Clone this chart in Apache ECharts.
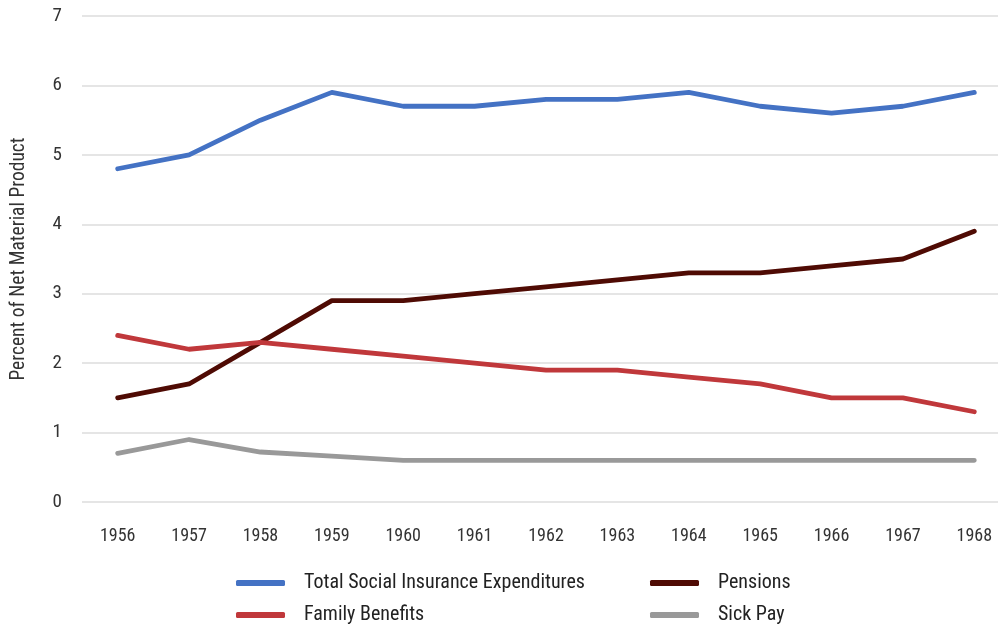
<!DOCTYPE html>
<html><head><meta charset="utf-8">
<script src="https://cdn.jsdelivr.net/npm/echarts@6/dist/echarts.min.js"></script>
<style>html,body{margin:0;padding:0;background:#fff}#c{width:998px;height:625px}</style>
</head><body><div id="c"></div>
<script>
const years = ['1956','1957','1958','1959','1960','1961','1962','1963','1964','1965','1966','1967','1968'];
const totalSI = [4.8,5.0,5.5,5.9,5.7,5.7,5.8,5.8,5.9,5.7,5.6,5.7,5.9];
const pensions = [1.5,1.7,2.3,2.9,2.9,3.0,3.1,3.2,3.3,3.3,3.4,3.5,3.9];
const family = [2.4,2.2,2.3,2.2,2.1,2.0,1.9,1.9,1.8,1.7,1.5,1.5,1.3];
const sickPay = [0.7,0.9,0.72,0.66,0.6,0.6,0.6,0.6,0.6,0.6,0.6,0.6,0.6];
const names = ['Total Social Insurance Expenditures','Pensions','Family Benefits','Sick Pay'];
const colors = ['#4472C4','#4F0B04','#C0383B','#999999'];
const FONT = '"Roboto Condensed", "Liberation Sans Narrow", "Roboto", sans-serif';

const chart = echarts.init(document.getElementById('c'));
const mk = (i, data) => ({
  name: names[i], type: 'line', data: data, symbol: 'none',
  lineStyle: {width: 4.8, color: colors[i], cap: 'round', join: 'round'},
  itemStyle: {color: colors[i]}
});
const lg = (name, left, top) => ({
  left: left, top: top, data: [name], icon: 'roundRect', itemWidth: 49, itemHeight: 6,
  textStyle: {fontFamily: FONT, fontSize: 20, color: '#222', padding: [0, 0, 0, 14]}
});
chart.setOption({
  animation: false,
  textStyle: {fontFamily: FONT},
  grid: {left: 82, top: 16, width: 928, height: 486, containLabel: false, outerBoundsMode: 'none'},
  legend: [
    lg(names[0], 231, 568), lg(names[2], 231, 600),
    lg(names[1], 645, 568), lg(names[3], 645, 600)
  ],
  xAxis: {
    type: 'category', data: years, boundaryGap: true,
    axisLine: {show: false}, axisTick: {show: false},
    axisLabel: {fontFamily: FONT, fontSize: 18, color: '#333', margin: 25}
  },
  yAxis: {
    type: 'value', min: 0, max: 7, interval: 1,
    name: 'Percent of Net Material Product', nameLocation: 'middle', nameGap: 53,
    nameTextStyle: {fontFamily: FONT, fontSize: 19.5, color: '#333'},
    axisLine: {show: false}, axisTick: {show: false},
    axisLabel: {fontFamily: FONT, fontSize: 19, color: '#333', margin: 20},
    splitLine: {lineStyle: {color: '#dddddd', width: 1.5}}
  },
  series: [mk(0, totalSI), mk(1, pensions), mk(2, family), mk(3, sickPay)]
});
</script></body></html>
